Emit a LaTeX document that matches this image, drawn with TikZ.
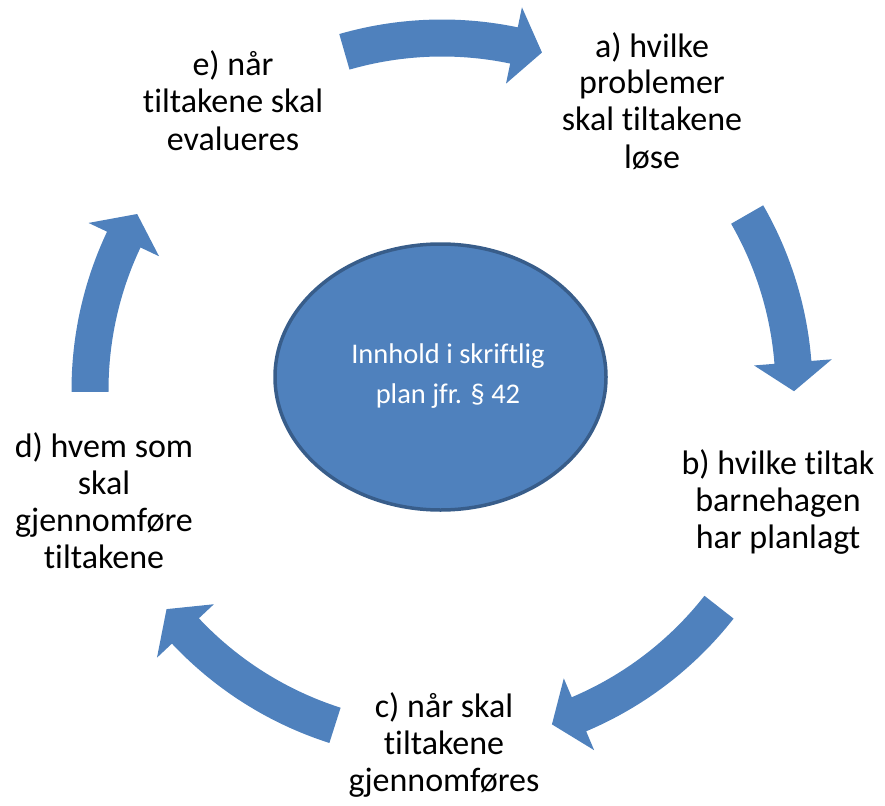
\documentclass[tikz,border=0pt]{standalone}
\usepackage{fontspec}
\setmainfont{Carlito}[Ligatures={NoCommon,NoContextual}]
\usetikzlibrary{shapes.geometric}
\definecolor{accblue}{HTML}{4F81BD}
\definecolor{accedge}{HTML}{385D8A}
\newcommand\cycarrow[3]{%
  \fill[cycarrowstyle] (#1:370.5) arc[start angle=#1, end angle=#2, radius=370.5]
    -- (#2:391) -- (#3:352) -- (#2:313) -- (#2:333.5)
    arc[start angle=#2, end angle=#1, radius=333.5] -- cycle;}
\begin{document}
\begin{tikzpicture}[x=1pt,y=-1pt,
  lbl/.style={align=center, anchor=base, font=\fontsize{34}{37}\selectfont, text=black, inner sep=0pt},
  cycarrowstyle/.style={fill=accblue, draw=none}]
\useasboundingbox (0,0) rectangle (885,805);
\begin{scope}[shift={(442,390)}]
  \cycarrow{253.9}{281.8}{286.5}
  \cycarrow{330.1}{355.5}{360.2}
  \cycarrow{38.1}{67.1}{71.8}
  \cycarrow{107.7}{136.8}{141.5}
  \cycarrow{179.7}{205.3}{210.0}
\end{scope}
\node[draw=accedge, line width=3.5pt, fill=accblue, ellipse, minimum width=331pt, minimum height=266pt, inner sep=0pt] (plan) at (440.5,377) {};
\node[anchor=base, align=center, text=white, font=\fontsize{28.5}{40}\selectfont, inner sep=0pt] (plantext) at (448,403) {Innhold i skriftlig\\plan jfr. § 42};
\node[lbl] (ne) at (233,150) {e) når\\tiltakene skal\\evalueres};
\node[lbl] (na) at (652,168) {a) hvilke\\problemer\\skal tiltakene\\løse};
\node[lbl] (nb) at (778,548) {b) hvilke tiltak\\barnehagen\\har planlagt};
\node[lbl] (nc) at (444,791) {c) når skal\\tiltakene\\gjennomføres};
\node[lbl] (nd) at (104,568) {d) hvem som\\skal\\gjennomføre\\tiltakene};
\end{tikzpicture}
\end{document}
